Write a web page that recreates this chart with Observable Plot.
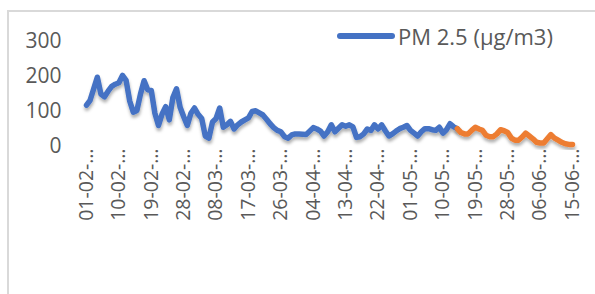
<!DOCTYPE html>
<html>
<head>
<meta charset="utf-8">
<script src="https://cdn.jsdelivr.net/npm/d3@7"></script>
<script src="https://cdn.jsdelivr.net/npm/@observablehq/plot@0.6"></script>
<style>
  html, body { margin: 0; padding: 0; background: #fff; }
  #wrap { position: relative; width: 595px; height: 294px; overflow: hidden; font-family: "Open Sans", sans-serif; }
  #frame { position: absolute; left: 7px; top: 10px; width: 620px; height: 320px; border-left: 2px solid #d9d9d9; border-top: 2px solid #d9d9d9; box-sizing: border-box; }
  #chart { position: absolute; left: 0; top: 0; }
  #legend { position: absolute; left: 337px; top: 21px; display: flex; align-items: center; color: #595959; font-size: 22px; white-space: nowrap; }
  #legend .sw { display: inline-block; width: 58px; height: 5.5px; border-radius: 3px; background: #4472C4; margin-right: 3px; }
  #chart svg g[aria-label="y-axis tick label"] { font-size: 21px; }
</style>
</head>
<body>
<div id="wrap">
  <div id="frame"></div>
  <div id="chart"></div>
  <div id="legend"><span class="sw"></span><span id="legtext"></span></div>
</div>
<script>
// ---- data ----
const seriesName = "PM 2.5 (µg/m3)";
const startDate = "2020-02-01";
const endDate = "2020-06-15";
// daily PM2.5, 01-02 .. 14-05 (blue)
const blueValues = [
  118,132,165,198,150,142,158,172,178,182,
  203,189,130,98,103,150,188,162,160,95,
  60,93,114,76,140,165,112,85,60,95,
  110,92,80,30,24,70,80,110,55,62,
  72,50,62,70,76,82,100,102,96,90,
  78,65,54,46,42,28,24,33,36,36,
  35,34,44,54,50,44,30,42,62,42,
  52,62,58,62,56,26,28,36,50,46,
  62,50,62,45,30,36,44,51,55,60,
  46,38,30,42,51,51,48,46,55,38,
  48,65,56,51
];
// daily PM2.5, 14-05 .. 15-06 (orange)
const orangeOffset = 103;
const orangeValues = [
  51,40,36,36,46,55,50,46,32,28,
  28,36,48,45,40,24,18,18,27,38,
  30,22,12,10,10,22,34,24,18,12,
  8,6,6
];
const xTickLabels = ["01-02","10-02","19-02","28-02","08-03","17-03","26-03","04-04","13-04","22-04","01-05","10-05","19-05","28-05","06-06","15-06"];
const yTicks = [0, 100, 200, 300];

// ---- build ----
const t0 = new Date(startDate + "T00:00:00Z");
const dayDate = i => new Date(t0.getTime() + i * 864e5);
const blueData = blueValues.map((v, i) => ({date: dayDate(i), value: v}));
const orangeData = orangeValues.map((v, i) => ({date: dayDate(orangeOffset + i), value: v}));
const tickDates = xTickLabels.map(s => { const [d, m] = s.split("-").map(Number); return new Date(Date.UTC(2020, m - 1, d)); });
const fmt = d3.utcFormat("%d-%m");

const lineOpts = {x: "date", y: "value", strokeWidth: 5.5, strokeLinejoin: "round", strokeLinecap: "round"};

const chart = Plot.plot({
  width: 595,
  height: 294,
  marginLeft: 86,
  marginRight: 23,
  marginTop: 41,
  marginBottom: 148,
  style: {background: "transparent", fontFamily: "Open Sans, sans-serif", fontSize: "19.5px", color: "#595959", overflow: "visible"},
  x: {type: "utc", domain: [t0, new Date(endDate + "T00:00:00Z")], ticks: tickDates, tickFormat: d => fmt(d) + "-…", tickRotate: -90, tickSize: 0, tickPadding: 2, label: null},
  y: {domain: [0, 300], ticks: yTicks, tickSize: 0, tickPadding: 25, label: null},
  marks: [
    Plot.ruleY([0], {stroke: "#d9d9d9", strokeWidth: 2, insetLeft: -2, insetRight: -2}),
    Plot.lineY(blueData, {...lineOpts, stroke: "#4472C4"}),
    Plot.lineY(orangeData, {...lineOpts, stroke: "#ED7D31"})
  ]
});

// drop shadow like the original
const ns = "http://www.w3.org/2000/svg";
const defs = document.createElementNS(ns, "defs");
defs.innerHTML = '<filter id="shadow" x="-5%" y="-20%" width="110%" height="150%"><feDropShadow dx="0.5" dy="3" stdDeviation="1.6" flood-color="#000" flood-opacity="0.3"/></filter>';
chart.insertBefore(defs, chart.firstChild);
chart.querySelectorAll('g[aria-label="line"], g[aria-label="rule"]').forEach(g => g.setAttribute("filter", "url(#shadow)"));

document.getElementById("chart").appendChild(chart);
document.getElementById("legtext").textContent = seriesName;
</script>
</body>
</html>
